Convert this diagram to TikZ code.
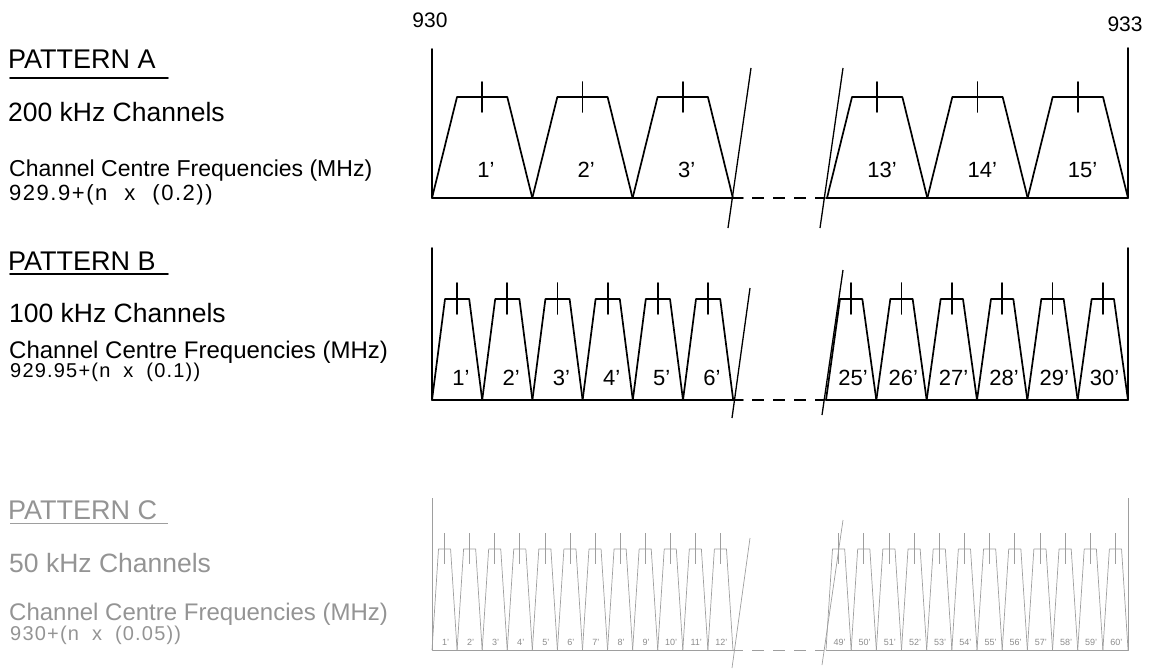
\documentclass[tikz,border=0pt]{standalone}
\usepackage{fontspec}
\setmainfont{Liberation Sans}
\begin{document}
\begin{tikzpicture}[x=1pt,y=-1pt,
  ln/.style={line width=1.7pt, line cap=round, line join=round},
  brk/.style={line width=1.3pt},
  dsh/.style={line width=1.7pt, dash pattern=on 12pt off 9pt},
  fa/.style={line width=0.7pt, draw=black!38, line join=round},
  fadsh/.style={line width=0.7pt, draw=black!38, dash pattern=on 12pt off 9pt},
  head/.style={anchor=base west, inner sep=0pt, font=\fontsize{27}{27}\selectfont},
  sub/.style={anchor=base west, inner sep=0pt, font=\fontsize{26.5}{27}\selectfont},
  freq/.style={anchor=base west, inner sep=0pt, font=\fontsize{23}{24}\selectfont},
  form/.style={anchor=base west, inner sep=0pt, font=\fontsize{22}{24}\selectfont\addfontfeature{LetterSpace=7}},
  nlab/.style={anchor=base, inner sep=0pt, font=\fontsize{22}{22}\selectfont},
  clab/.style={anchor=base, inner sep=0pt, font=\fontsize{9}{9}\selectfont, text=black!45},
  ctext/.style={text=black!42},
]
\useasboundingbox (0,0) rectangle (1155,669);

% ---------- top scale labels ----------
\node[anchor=base, inner sep=0pt, font=\fontsize{21}{21}\selectfont] (f930) at (430,28) {930};
\node[anchor=base, inner sep=0pt, font=\fontsize{21}{21}\selectfont] (f933) at (1125,32) {933};

% ---------- left texts ----------
\node[head] (pA) at (8,68) {PATTERN A};
\draw[ln] (10,78) -- (168,78);
\node[sub] (kA) at (8,121) {200 kHz Channels};
\node[freq] (cA) at (9,176) {Channel Centre Frequencies (MHz)};
\node[form] (fA) at (9,200) {929.9+(n\hspace{17pt}x\hspace{17pt}(0.2))};

\node[head] (pB) at (8,270) {PATTERN B};
\draw[ln] (10,274) -- (168,274);
\node[sub] (kB) at (9,322) {100 kHz Channels};
\node[freq, font=\fontsize{24}{24}\selectfont] (cB) at (9,358) {Channel Centre Frequencies (MHz)};
\node[form, font=\fontsize{20}{22}\selectfont\addfontfeature{LetterSpace=6}] (fB) at (10,377) {929.95+(n\hspace{13pt}x\hspace{13pt}(0.1))};

\node[head, ctext] (pC) at (8,519) {PATTERN C};
\draw[fa, line width=1pt] (10,523) -- (168,523);
\node[sub, ctext] (kC) at (9,572) {50 kHz Channels};
\node[freq, ctext, font=\fontsize{24}{24}\selectfont] (cC) at (9,620) {Channel Centre Frequencies (MHz)};
\node[form, ctext, font=\fontsize{20}{22}\selectfont\addfontfeature{LetterSpace=6}] (fC) at (10,640) {930+(n\hspace{13pt}x\hspace{13pt}(0.05))};

% ---------- PATTERN A ----------
\draw[ln] (432,49) -- (432,198) -- (743,198);
\draw[dsh] (752,198) -- (824,198);
\draw[ln] (826,198) -- (1128,198) -- (1128,48);
\draw[brk] (751,68) -- (728,228);
\draw[brk] (843,68) -- (820,228);
\foreach \s/\lab in {0/1,1/2,2/3}{
  \pgfmathsetmacro\xa{432+100.3*\s}
  \draw[ln] (\xa,198) -- ++(25,-101) -- ++(50.3,0) -- ++(25,101);
  \draw[ln] (\xa+50.15,82) -- (\xa+50.15,112);
  \node[nlab] (a\lab) at (\xa+54,177) {\lab'};
}
\foreach \s/\lab in {0/13,1/14,2/15}{
  \pgfmathsetmacro\xa{827+100.33*\s}
  \draw[ln] (\xa,198) -- ++(25,-101) -- ++(50.33,0) -- ++(25,101);
  \draw[ln] (\xa+50.15,82) -- (\xa+50.15,112);
  \node[nlab] (a\lab) at (\xa+55,177) {\lab'};
}

% ---------- PATTERN B ----------
\draw[ln] (432,248) -- (432,400) -- (743,400);
\draw[dsh] (752,400) -- (824,400);
\draw[ln] (826,400) -- (1128,400) -- (1128,248);
\draw[brk] (750,288) -- (732,418);
\draw[brk] (843,270) -- (822,415);
\foreach \s/\lab in {0/1,1/2,2/3,3/4,4/5,5/6}{
  \pgfmathsetmacro\xa{432+50.2*\s}
  \draw[ln] (\xa,400) -- ++(13,-101) -- ++(24.2,0) -- ++(13,101);
  \draw[ln] (\xa+25.1,283) -- (\xa+25.1,314);
  \node[nlab] (b\lab) at (\xa+29,385) {\lab'};
}
\foreach \s/\lab in {0/25,1/26,2/27,3/28,4/29,5/30}{
  \pgfmathsetmacro\xa{826+50.33*\s}
  \draw[ln] (\xa,400) -- ++(14,-101) -- ++(22.33,0) -- ++(14,101);
  \draw[ln] (\xa+25.17,283) -- (\xa+25.17,314);
  \node[nlab] (b\lab) at (\xa+27,385) {\lab'};
}

% ---------- PATTERN C (faint) ----------
\draw[fa] (432,498) -- (432,650) -- (743,650);
\draw[fadsh] (752,650) -- (824,650);
\draw[fa] (826,650) -- (1128,650) -- (1128,498);
\draw[fa] (750,538) -- (732,668);
\draw[fa] (843,520) -- (822,665);
\foreach \s in {0,...,11}{
  \pgfmathsetmacro\xa{432+25.08*\s}
  \pgfmathtruncatemacro\lab{\s+1}
  \draw[fa] (\xa,650) -- ++(6.5,-101) -- ++(12.08,0) -- ++(6.5,101);
  \draw[fa] (\xa+12.54,533) -- (\xa+12.54,564);
  \node[clab] (c\lab) at (\xa+13.5,645) {\lab'};
}
\foreach \s in {0,...,11}{
  \pgfmathsetmacro\xa{826+25.17*\s}
  \pgfmathtruncatemacro\lab{\s+49}
  \draw[fa] (\xa,650) -- ++(6.5,-101) -- ++(12.17,0) -- ++(6.5,101);
  \draw[fa] (\xa+12.58,533) -- (\xa+12.58,564);
  \node[clab] (c\lab) at (\xa+13.5,645) {\lab'};
}
\end{tikzpicture}
\end{document}
